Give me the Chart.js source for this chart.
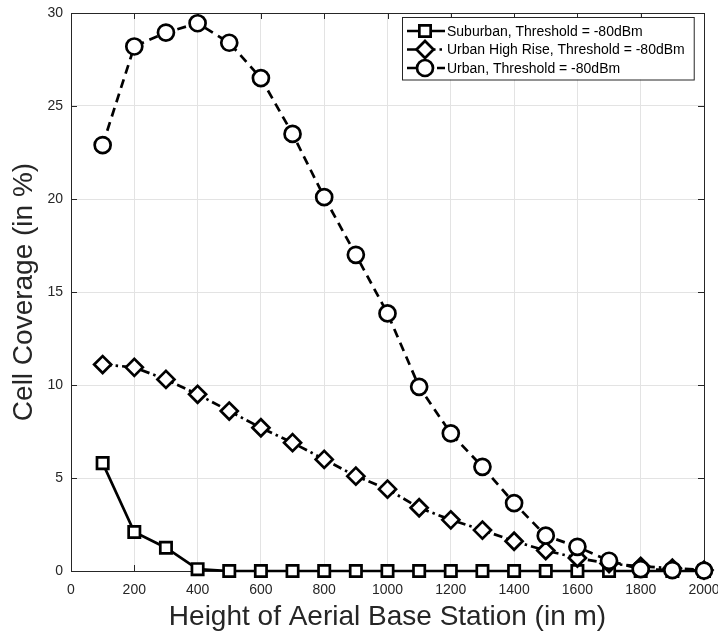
<!DOCTYPE html>
<html>
<head>
<meta charset="utf-8">
<script src="https://cdn.jsdelivr.net/npm/chart.js@4.4.1/dist/chart.umd.min.js"></script>
<style>
  body { margin: 0; background: #fff; }
  #wrap { width: 718px; height: 637px; }
</style>
</head>
<body>
<div id="wrap"><canvas id="coverage" width="718" height="637"></canvas></div>
<script>
// heights of the aerial base station (m)
const heights = [100, 200, 300, 400, 500, 600, 700, 800, 900, 1000,
                 1100, 1200, 1300, 1400, 1500, 1600, 1700, 1800, 1900, 2000];

// cell coverage (%)
const suburban = [5.8, 2.1, 1.25, 0.1, 0, 0, 0, 0, 0, 0,
                  0, 0, 0, 0, 0, 0, 0, 0, 0, 0];
const urbanHighRise = [11.1, 10.95, 10.3, 9.5, 8.6, 7.7, 6.9, 6.0, 5.1, 4.4,
                       3.4, 2.75, 2.2, 1.6, 1.1, 0.7, 0.4, 0.25, 0.15, 0.05];
const urban = [22.9, 28.2, 28.95, 29.45, 28.4, 26.5, 23.5, 20.1, 17.0, 13.85,
               9.9, 7.4, 5.6, 3.65, 1.9, 1.3, 0.55, 0.1, 0.05, 0.02];

const seriesNames = ['Suburban, Threshold = -80dBm',
                     'Urban High Rise, Threshold = -80dBm',
                     'Urban, Threshold = -80dBm'];

const xTicks = [0, 200, 400, 600, 800, 1000, 1200, 1400, 1600, 1800, 2000];
const yTicks = [0, 5, 10, 15, 20, 25, 30];

const ink = '#262626';
const sans = "'Liberation Sans', Arial, sans-serif";

function series(label, values, style, radius, dash, order) {
  return {
    label: label,
    data: heights.map((h, i) => ({ x: h, y: values[i] })),
    borderColor: '#000',
    borderWidth: 2.7,
    borderDash: dash,
    pointStyle: style,
    pointRadius: radius,
    pointBorderWidth: 2.7,
    pointBorderColor: '#000',
    pointBackgroundColor: '#fff',
    order: order,
    clip: false,
    tension: 0
  };
}

// box round the plot + MATLAB style inner tick marks
const frame = {
  id: 'frame',
  beforeDatasetsDraw(chart) {
    const { ctx, chartArea: a, scales: { x, y } } = chart;
    ctx.save();
    ctx.strokeStyle = ink;
    ctx.lineWidth = 1;
    ctx.beginPath();
    xTicks.forEach(v => {
      const px = Math.round(x.getPixelForValue(v)) + 0.5;
      ctx.moveTo(px, a.bottom); ctx.lineTo(px, a.bottom - 6);
      ctx.moveTo(px, a.top); ctx.lineTo(px, a.top + 6);
    });
    yTicks.forEach(v => {
      const py = Math.round(y.getPixelForValue(v)) + 0.5;
      ctx.moveTo(a.left, py); ctx.lineTo(a.left + 6, py);
      ctx.moveTo(a.right, py); ctx.lineTo(a.right - 6, py);
    });
    ctx.stroke();
    ctx.strokeRect(Math.round(a.left) + 0.5, Math.round(a.top) + 0.5,
                   Math.round(a.right - a.left), Math.round(a.bottom - a.top));
    ctx.restore();
  }
};

function marker(ctx, style, cx, cy, r) {
  ctx.beginPath();
  if (style === 'circle') {
    ctx.arc(cx, cy, r, 0, Math.PI * 2);
  } else if (style === 'rect') {
    const s = Math.SQRT1_2 * r;
    ctx.rect(cx - s, cy - s, 2 * s, 2 * s);
  } else {
    ctx.moveTo(cx - r, cy); ctx.lineTo(cx, cy - r);
    ctx.lineTo(cx + r, cy); ctx.lineTo(cx, cy + r);
    ctx.closePath();
  }
  ctx.fill();
  ctx.stroke();
}

// legend in the upper right, drawn with line sample + marker
const boxLegend = {
  id: 'boxLegend',
  afterDatasetsDraw(chart) {
    const { ctx, chartArea: a } = chart;
    const left = a.right - 302, top = a.top + 4, rowH = 18.5;
    ctx.save();
    ctx.font = '14px ' + sans;
    const textW = Math.max(...chart.data.datasets.map(d => ctx.measureText(d.label).width));
    const w = 45 + textW + 9, h = rowH * 3 + 7;
    ctx.fillStyle = '#fff';
    ctx.fillRect(left, top, w, h);
    ctx.strokeStyle = ink;
    ctx.lineWidth = 1;
    ctx.strokeRect(left + 0.5, top + 0.5, w, h);
    chart.data.datasets.forEach((d, i) => {
      const cy = top + 14 + i * rowH;
      ctx.strokeStyle = '#000';
      ctx.lineWidth = d.borderWidth;
      ctx.setLineDash(d.borderDash);
      ctx.beginPath();
      ctx.moveTo(left + 5, cy); ctx.lineTo(left + 43, cy);
      ctx.stroke();
      ctx.setLineDash([]);
      ctx.fillStyle = '#fff';
      ctx.lineWidth = d.pointBorderWidth;
      marker(ctx, d.pointStyle, left + 23, cy, d.pointRadius);
      ctx.fillStyle = '#000';
      ctx.textBaseline = 'middle';
      ctx.fillText(d.label, left + 45, cy + 1);
    });
    ctx.restore();
  }
};

new Chart(document.getElementById('coverage'), {
  type: 'line',
  data: {
    datasets: [
      series(seriesNames[0], suburban, 'rect', 8, [], 2),
      series(seriesNames[1], urbanHighRise, 'rectRot', 8.5, [9, 4, 2.5, 4], 1),
      series(seriesNames[2], urban, 'circle', 8, [9, 6], 0)
    ]
  },
  options: {
    responsive: false,
    animation: false,
    layout: { padding: { top: 13, right: 14, left: 0, bottom: 0 } },
    plugins: { legend: { display: false }, tooltip: { enabled: false } },
    scales: {
      x: {
        type: 'linear',
        min: 0,
        max: 2000,
        afterBuildTicks: s => { s.ticks = xTicks.map(v => ({ value: v })); },
        afterFit: s => { s.height = 66; s.paddingLeft = 0; s.paddingRight = 0; },
        grid: { color: '#e3e3e3', drawTicks: false },
        border: { color: ink, width: 1 },
        ticks: { color: ink, padding: 11, maxRotation: 0, callback: v => String(v),
                 font: { size: 14, family: sans } },
        title: {
          display: true,
          text: 'Height of Aerial Base Station (in m)',
          color: ink,
          padding: { top: 0, bottom: 3 },
          font: { size: 28, family: sans, lineHeight: 1.2 }
        }
      },
      y: {
        min: 0,
        max: 30,
        afterBuildTicks: s => { s.ticks = yTicks.map(v => ({ value: v })); },
        afterFit: s => { s.width = 71; s.paddingTop = 0; s.paddingBottom = 0; },
        grid: { color: '#e3e3e3', drawTicks: false },
        border: { color: ink, width: 1 },
        ticks: { color: ink, padding: 8, callback: v => String(v), font: { size: 14, family: sans } },
        title: {
          display: true,
          text: 'Cell Coverage (in %)',
          color: ink,
          padding: { top: 7, bottom: 0 },
          font: { size: 28, family: sans, lineHeight: 1.2 }
        }
      }
    }
  },
  plugins: [frame, boxLegend]
});
</script>
</body>
</html>
